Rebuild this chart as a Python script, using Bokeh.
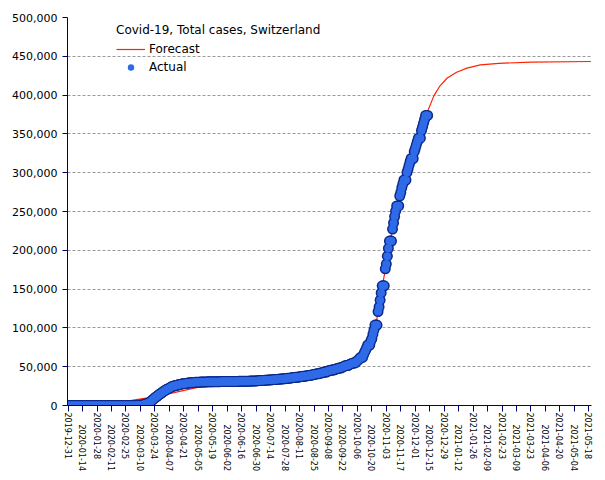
import pandas as pd
from bokeh.plotting import figure
from bokeh.models import (Range1d, FixedTicker, SingleIntervalTicker, NumeralTickFormatter,
                          Legend, LegendItem, LinearAxis)
from bokeh.embed import file_html
from bokeh.resources import INLINE

# ---------------- data ----------------
start_date = "2019-12-31"

# daily cumulative cases from 2019-12-31 to 2020-12-13
actual_cases = [
    # 2019-12-31 .. 2020-01-31
    0, 0, 0, 0, 0, 0, 0, 0, 0, 0, 0, 0, 0, 0, 0, 0,
    0, 0, 0, 0, 0, 0, 0, 0, 0, 0, 0, 0, 0, 0, 0, 0,
    # 2020-02-01 .. 2020-02-24
    0, 0, 0, 0, 0, 0, 0, 0, 0, 0, 0, 0,
    0, 0, 0, 0, 0, 0, 0, 0, 0, 0, 0, 0,
    # 2020-02-25 .. 2020-03-31
    1, 1, 8, 8, 18, 27, 42, 56, 90, 114, 214, 268, 337, 374, 491, 652, 652, 1139,
    1359, 2200, 2200, 2700, 3028, 4075, 5294, 6575, 7474, 8795, 9877, 10897, 11811,
    12928, 14076, 14829, 15922, 16605,
    # April
    17768, 18827, 19606, 20505, 21100, 21657, 22253, 23280, 24051, 24551, 25107,
    25415, 25688, 25936, 26336, 26732, 27078, 27404, 27740, 27944, 28063, 28268,
    28496, 28677, 28894, 29061, 29164, 29264, 29407, 29586,
    # May
    29705, 29817, 29905, 29981, 30009, 30060, 30126, 30207, 30251, 30305, 30344,
    30380, 30413, 30463, 30514, 30572, 30587, 30597, 30618, 30658, 30694, 30707,
    30725, 30736, 30746, 30761, 30776, 30796, 30828, 30845, 30862,
    # June
    30871, 30874, 30893, 30913, 30936, 30956, 30965, 30972, 30988, 31011, 31044,
    31063, 31094, 31117, 31131, 31154, 31187, 31235, 31243, 31292, 31310, 31332,
    31376, 31428, 31486, 31555, 31617, 31652, 31665, 31714,
    # July
    31851, 31967, 32101, 32198, 32268, 32315, 32369, 32498, 32586, 32690, 32817,
    32883, 32946, 33016, 33148, 33290, 33382, 33492, 33591, 33634, 33742, 33883,
    34000, 34154, 34302, 34412, 34477, 34609, 34802, 35022, 35232,
    # August
    35232, 35232, 35616, 35746, 35927, 36108, 36269, 36269, 36269, 36708, 36895,
    37169, 37403, 37671, 37671, 37671, 38124, 38252, 38449, 38760, 39026, 39026,
    39026, 39903, 40060, 40262, 40638, 40986, 40986, 40986, 41722,
    # September
    42014, 42177, 42763, 43127, 43127, 43127, 44401, 44592, 44837, 45306, 45711,
    45711, 45711, 46704, 46985, 47179, 47751, 48265, 48265, 48265, 49283, 49665,
    50378, 51101, 51492, 51492, 51492, 52646, 53282, 53832,
    # October
    54384, 54916, 54916, 54916, 56632, 57709, 58881, 60368, 61905, 61905, 61905,
    65881, 68704, 71317, 74422, 77962, 77962, 77962, 83159, 86167, 91763, 97019,
    103653, 103653, 103653, 121093, 127042, 135658, 145044, 154251, 154251,
    # November
    154251, 176177, 182303, 192376, 202504, 211913, 211913, 211913, 227381, 235202,
    243472, 250396, 257135, 257135, 257135, 269974, 274534, 280648, 285626, 290601,
    290601, 290601, 300352, 304593, 309469, 314114, 318290, 318290, 318290, 327072,
    # December 1 .. 13
    331055, 335660, 340115, 344497, 344497, 344497, 354206, 358568, 363654, 368695,
    373831, 373831, 373831,
]

forecast_dates = [
    "2020-02-26", "2020-03-17", "2020-04-06", "2020-05-10", "2020-05-24",
    "2020-06-15", "2020-07-15", "2020-08-15", "2020-09-15", "2020-10-01",
    "2020-10-10", "2020-10-17", "2020-10-24", "2020-10-31", "2020-11-07",
    "2020-11-14", "2020-11-21", "2020-11-28", "2020-12-05", "2020-12-12",
    "2020-12-16", "2020-12-19", "2020-12-25", "2021-01-01", "2021-01-10",
    "2021-01-20", "2021-02-02", "2021-02-20", "2021-03-23", "2021-05-20",
]
forecast_cases = [
    5600, 9900, 15000, 25000, 29000,
    30800, 32800, 37500, 46500, 54500,
    63000, 78000, 105000, 160000, 213000,
    256000, 290000, 318000, 345000, 376000,
    389000, 399000, 412000, 422000, 429500,
    434700, 439000, 441000, 442400, 443300,
]

tick_labels = [
    "2019-12-31", "2020-01-14", "2020-01-28", "2020-02-11", "2020-02-25",
    "2020-03-10", "2020-03-24", "2020-04-07", "2020-04-21", "2020-05-05",
    "2020-05-19", "2020-06-02", "2020-06-16", "2020-06-30", "2020-07-14",
    "2020-07-28", "2020-08-11", "2020-08-25", "2020-09-08", "2020-09-22",
    "2020-10-06", "2020-10-20", "2020-11-03", "2020-11-17", "2020-12-01",
    "2020-12-15", "2020-12-29", "2021-01-12", "2021-01-26", "2021-02-09",
    "2021-02-23", "2021-03-09", "2021-03-23", "2021-04-06", "2021-04-20",
    "2021-05-04", "2021-05-18",
]

# ---------------- derived positions (days since start) ----------------
t0 = pd.Timestamp(start_date)
actual_x = list(range(len(actual_cases)))
forecast_x = [(pd.Timestamp(d) - t0).days for d in forecast_dates]
tick_x = [(pd.Timestamp(d) - t0).days for d in tick_labels]

FONT = "DejaVu Sans"
AXIS_COLOR = "#000066"

p = figure(width=600, height=476, output_backend="svg", toolbar_location=None,
           x_range=Range1d(-0.6, 506.6), y_range=Range1d(0, 500000),
           min_border_left=67, min_border_right=9, min_border_top=17,
           min_border_bottom=71)
p.outline_line_color = None
p.background_fill_color = "white"
p.border_fill_color = "white"

r_fc = p.line(forecast_x, forecast_cases, line_color="#ff2200", line_width=1.2)
r_dark = p.scatter(actual_x, actual_cases, size=11, fill_color="#0c2a8c",
                   line_color=None)
r_dot = p.scatter(actual_x, actual_cases, size=8, fill_color="#2f6be8",
                  line_color=None)

# x axis: even labels on the main axis, odd labels on a second (staggered) axis
even_labels = {x: (lbl if i % 2 == 0 else "") for i, (x, lbl) in enumerate(zip(tick_x, tick_labels))}
odd_labels = {x: (lbl if i % 2 == 1 else "") for i, (x, lbl) in enumerate(zip(tick_x, tick_labels))}

xa = p.xaxis[0]
xa.ticker = FixedTicker(ticks=tick_x, minor_ticks=[])
xa.major_label_overrides = even_labels
xa.major_tick_out = 6
xa.major_tick_in = 0
xa.minor_tick_line_color = None
xa.major_label_standoff = 1

xb = LinearAxis(ticker=FixedTicker(ticks=tick_x, minor_ticks=[]),
                major_label_overrides=odd_labels,
                axis_line_color=None, major_tick_line_color=None,
                minor_tick_line_color=None, major_tick_out=0, major_tick_in=0,
                major_label_standoff=-37)
p.add_layout(xb, "below")

for ax in (xa, xb):
    ax.major_label_orientation = "vertical"
    ax.major_label_text_font = FONT
    ax.major_label_text_font_size = "8px"
    ax.major_label_text_color = "black"

# y axis
p.yaxis.ticker = SingleIntervalTicker(interval=50000, num_minor_ticks=0)
p.yaxis.formatter = NumeralTickFormatter(format="0,0")
p.yaxis.major_label_text_font = FONT
p.yaxis.major_label_text_font_size = "11px"
p.yaxis.major_label_standoff = 5
p.yaxis.major_tick_out = 5
p.yaxis.major_tick_in = 0
p.yaxis.minor_tick_line_color = None
p.yaxis.major_label_text_color = "black"

for ax in (xa, p.yaxis[0]):
    ax.axis_line_color = AXIS_COLOR
    ax.major_tick_line_color = AXIS_COLOR

p.xgrid.visible = False
p.ygrid.grid_line_color = "#999999"
p.ygrid.grid_line_dash = "3 2"
p.ygrid.grid_line_width = 1

legend = Legend(
    items=[LegendItem(label="Forecast", renderers=[r_fc]),
           LegendItem(label="Actual", renderers=[r_dot])],
    title="Covid-19, Total cases, Switzerland",
    location=(49, 330),
    title_text_font=FONT, title_text_font_size="12px", title_text_font_style="normal",
    title_text_color="black", title_standoff=4,
    label_text_font=FONT, label_text_font_size="12px", label_text_color="black",
    glyph_width=29, glyph_height=16, label_height=16, spacing=2,
    padding=0, margin=0, label_standoff=4,
    background_fill_alpha=0, border_line_color=None,
)
p.add_layout(legend)

open("out.html", "w").write(file_html(p, INLINE))
